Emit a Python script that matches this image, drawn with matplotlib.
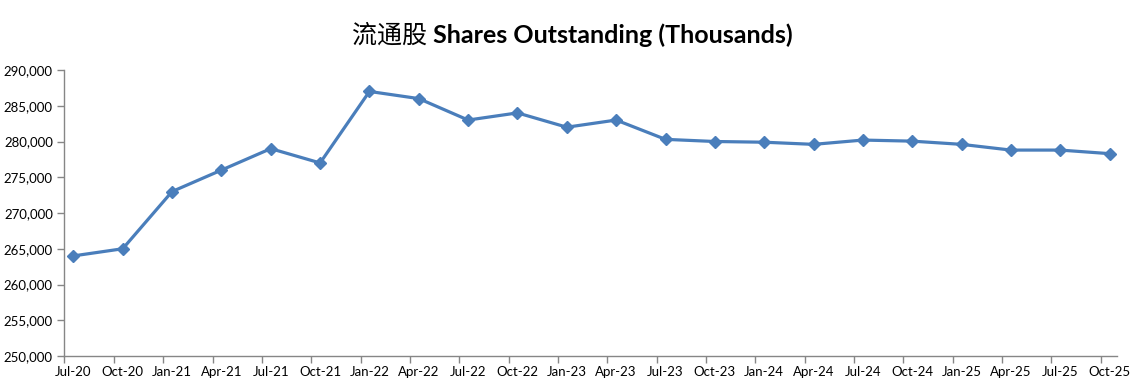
import matplotlib
matplotlib.use("Agg")
import matplotlib.pyplot as plt
from matplotlib.ticker import FuncFormatter, FixedLocator
import numpy as np

categories = ["Jul-20", "Oct-20", "Jan-21", "Apr-21", "Jul-21", "Oct-21", "Jan-22", "Apr-22",
              "Jul-22", "Oct-22", "Jan-23", "Apr-23", "Jul-23", "Oct-23", "Jan-24", "Apr-24",
              "Jul-24", "Oct-24", "Jan-25", "Apr-25", "Jul-25", "Oct-25"]
shares = [264000, 265000, 273000, 276000, 279000, 277000, 287000, 286000,
          283000, 284000, 282000, 283000, 280300, 280000, 279900, 279600,
          280200, 280050, 279600, 278800, 278800, 278300]
y_ticks = list(range(250000, 290001, 5000))
title_cn = "流通股"
title_en = "Shares Outstanding (Thousands)"

W, H, DPI = 1147, 387, 100
fig = plt.figure(figsize=(W / DPI, H / DPI), dpi=DPI)
ax = fig.add_axes([64 / W, 1 - 356 / H, (1117 - 64) / W, (356 - 70) / H])

x = np.arange(len(categories))
ax.plot(x, shares, color="#4a7ebb", lw=2.3, marker="D", markersize=6,
        markerfacecolor="#4a7ebb", markeredgecolor="#4a7ebb", zorder=3)

ax.set_ylim(250000, 290000)
ax.set_xlim(-0.19, len(categories) - 1 + 0.15)
ax.set_yticks(y_ticks)
ax.yaxis.set_major_formatter(FuncFormatter(lambda v, p: f"{int(v):,}"))
ax.set_xticks(x)
ax.set_xticklabels(categories)
ax.xaxis.set_minor_locator(FixedLocator(list(x - 0.18)))

spine_col = "#868686"
for s in ["top", "right"]:
    ax.spines[s].set_visible(False)
for s in ["left", "bottom"]:
    ax.spines[s].set_color(spine_col)
    ax.spines[s].set_linewidth(1.0)

tick_font = "Lato"
ax.tick_params(axis="y", direction="out", length=5, width=1, color=spine_col,
               labelsize=9.5, pad=3, labelcolor="#000000")
ax.tick_params(axis="x", which="major", length=0, labelsize=9.5, pad=7, labelcolor="#000000")
ax.tick_params(axis="x", which="minor", direction="out", length=5, width=1, color=spine_col)
for lab in ax.get_xticklabels() + ax.get_yticklabels():
    lab.set_fontfamily(tick_font)

# Title: Chinese part (regular) + English part (bold), centered together
fig.canvas.draw()
r = fig.canvas.get_renderer()
t1 = fig.text(0, 0, title_cn, fontsize=18, family=["Noto Sans CJK SC"], va="baseline")
t2 = fig.text(0, 0, " " + title_en, fontsize=18, family=["Lato"], fontweight="bold", va="baseline")
w1 = t1.get_window_extent(r).width
w2 = t2.get_window_extent(r).width
total = w1 + w2
cx = 572
x0 = cx - total / 2
yb = 1 - 43 / H
t1.set_position((x0 / W, yb))
t2.set_position(((x0 + w1) / W, yb))

fig.savefig("out.png", dpi=DPI, facecolor="white")
